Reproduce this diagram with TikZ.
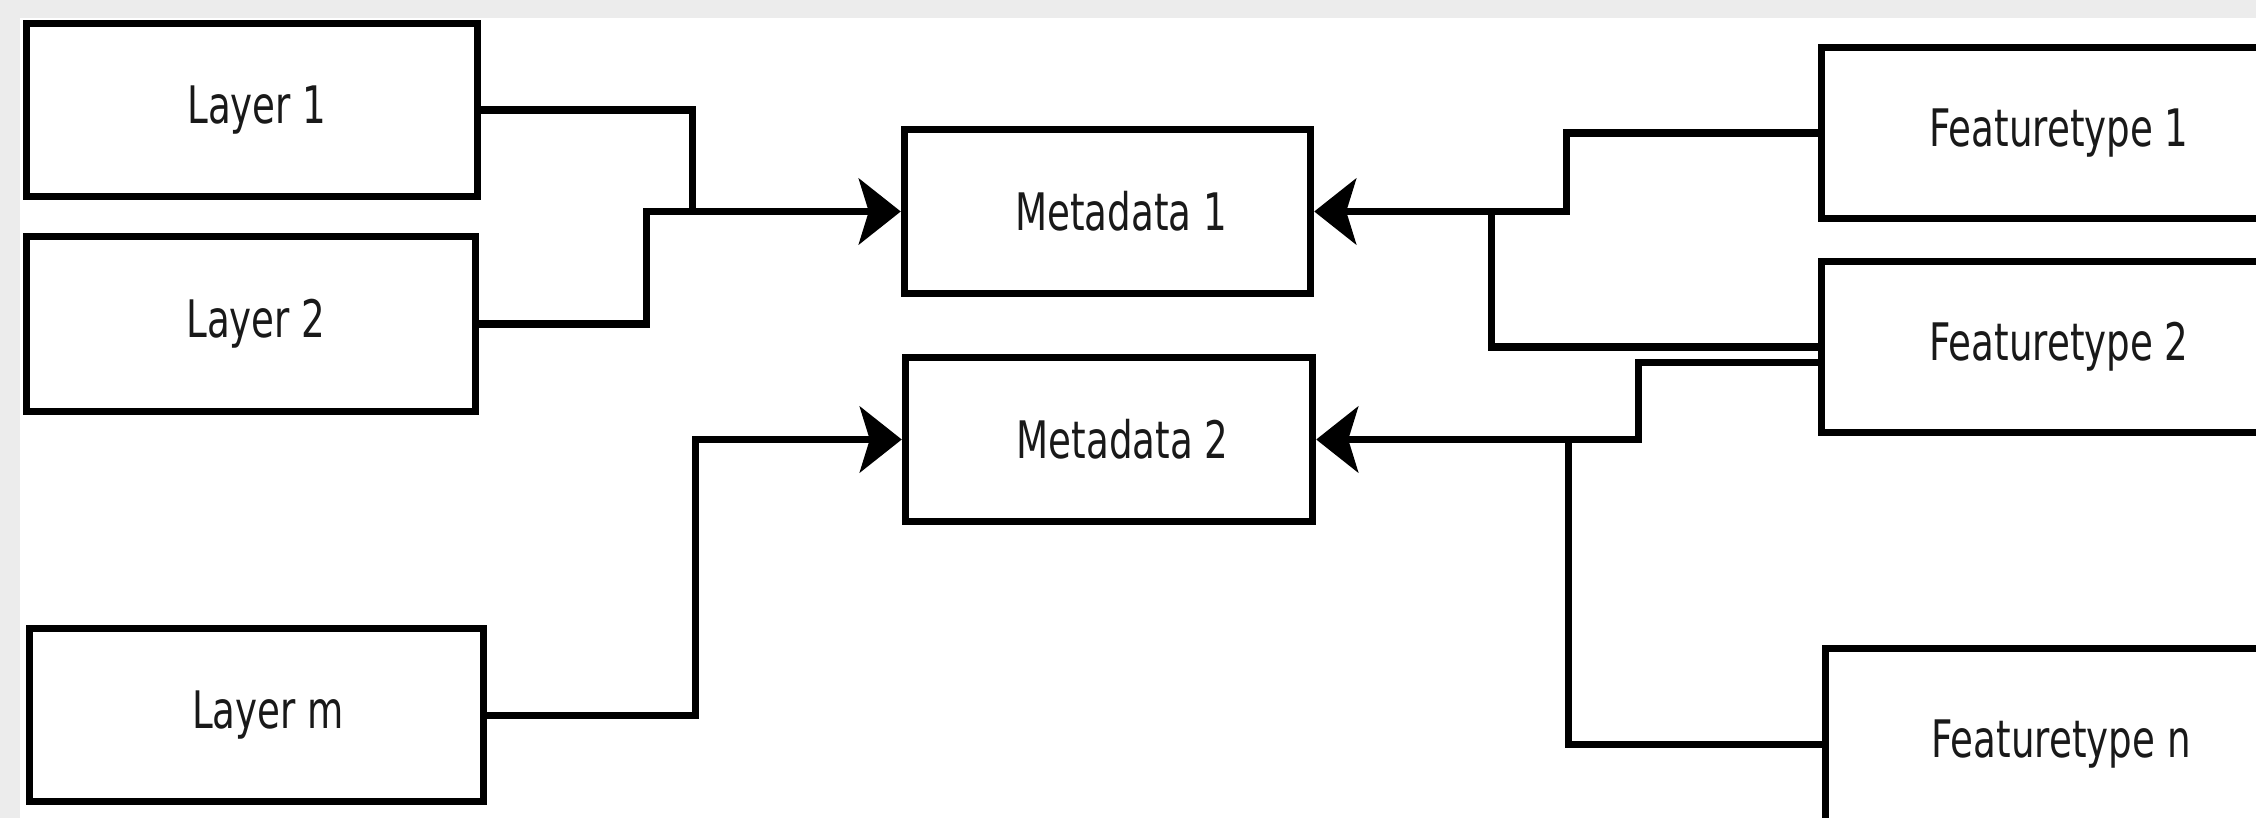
\documentclass[tikz,border=0pt]{standalone}
\usepackage{fontspec}
\setmainfont{DejaVu Sans}[FakeStretch=0.72]
\usetikzlibrary{arrows.meta}
\begin{document}
\begin{tikzpicture}[x=0.01cm,y=-0.01cm]
\tikzset{
  box/.style={draw=black, line width=0.072cm, fill=white, inner sep=0pt,
    font=\fontsize{14.7pt}{17pt}\selectfont, text=black!90},
  conn/.style={draw=black, line width=0.07cm},
  arr/.style={conn, -{Stealth[length=0.42cm, width=0.66cm, inset=0.1cm]}},
}
\useasboundingbox (0,0) rectangle (2256,818);
\clip (0,0) rectangle (2256,818);
\fill[white] (0,0) rectangle (2256,818);
\fill[gray!15] (0,0) rectangle (2256,18);
\fill[gray!15] (0,0) rectangle (20,818);

% left column
\node[box, minimum width=4.51cm, minimum height=1.73cm] (L1) at (252,110) {\hspace*{0.1cm}Layer 1};
\node[box, minimum width=4.49cm, minimum height=1.75cm] (L2) at (251,324) {\hspace*{0.1cm}Layer 2};
\node[box, minimum width=4.54cm, minimum height=1.73cm] (Lm) at (256.5,715) {\hspace*{0.23cm}Layer m};

% middle column
\node[box, minimum width=4.06cm, minimum height=1.64cm] (M1) at (1107.5,211.5) {\hspace*{0.27cm}Metadata 1};
\node[box, minimum width=4.07cm, minimum height=1.64cm] (M2) at (1109,439.5) {\hspace*{0.27cm}Metadata 2};

% right column
\node[box, minimum width=4.75cm, minimum height=1.71cm] (F1) at (2059,133) {Featuretype 1};
\node[box, minimum width=4.75cm, minimum height=1.71cm] (F2) at (2059,347) {Featuretype 2};
\node[box, minimum width=4.71cm, minimum height=1.91cm] (Fn) at (2061,744) {Featuretype n};

% junctions on the trunks
\coordinate (j1) at (692,211.5);
\coordinate (j2) at (1491,211.5);
\coordinate (j3) at (1568,439.5);

% connectors
\draw[conn] (L1.east) -| (j1);
\draw[arr] (L2.east) -| (646,211.5) -- (M1.west);
\draw[arr] (Lm.east) -| (695,439.5) -- (M2.west);
\draw[arr] (F1.west) -| (1566,211.5) -- (M1.east);
\draw[conn] (F2.west) -| (j2);
\draw[arr] ([yshift=-0.15cm]F2.west) -| (1638,439.5) -- (M2.east);
\draw[conn] (Fn.west) -| (j3);
\end{tikzpicture}
\end{document}
